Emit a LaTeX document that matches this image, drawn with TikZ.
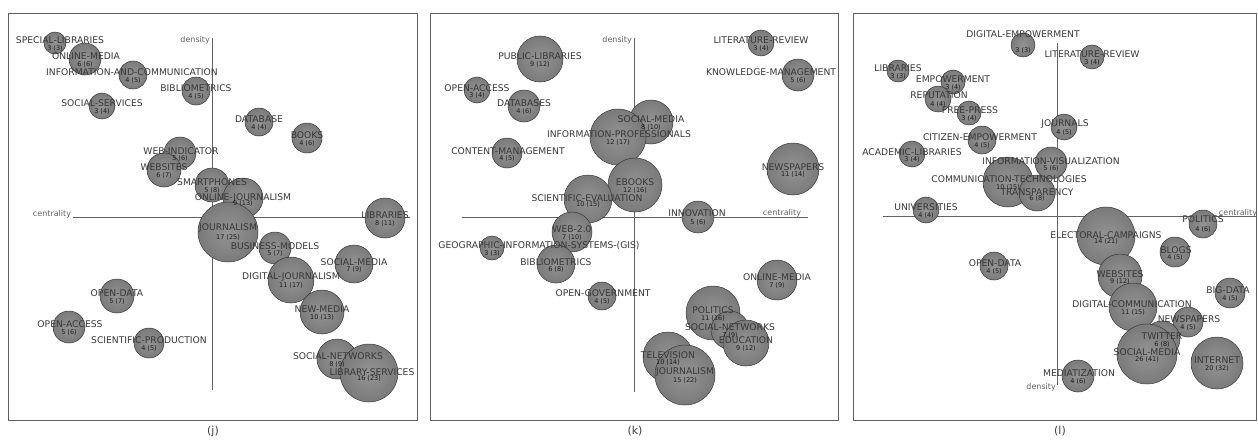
\documentclass[tikz,border=0pt]{standalone}
\usepackage{fontspec}
\setmainfont{DejaVu Sans}
\definecolor{bubin}{gray}{0.58}
\definecolor{bubmid}{gray}{0.46}
\definecolor{bubout}{gray}{0.28}
\definecolor{labc}{gray}{0.22}
\definecolor{axc}{gray}{0.38}
\pgfdeclareradialshading{bubshade}{\pgfpoint{0bp}{0bp}}{color(0bp)=(bubin); color(30bp)=(bubmid); color(46bp)=(bubout!60!bubmid); color(50bp)=(bubout)}
\newcommand{\mybb}[4]{\node[bub, minimum size=#4*2pt] (#1) at (#2,#3) {};}
\newcommand{\mylb}[5]{\node[lab] (#1l) at (#2,#3) {#4};\node[num] (#1n) at ([yshift=-5pt]#1.center) {#5};}
\begin{document}
\begin{tikzpicture}[x=1pt,y=-1pt,
  bub/.style={circle, inner sep=0pt, shading=bubshade, draw=bubout!80!black, line width=0.5pt},
  lab/.style={font=\fontsize{9.2}{10}\selectfont, text=labc, inner sep=0pt},
  num/.style={font=\fontsize{6.5}{7}\selectfont, text=labc!50!black, inner sep=0pt},
  axl/.style={font=\fontsize{8}{9}\selectfont, text=axc, inner sep=0pt},
  captxt/.style={font=\fontsize{11}{12}\selectfont, text=black!75, inner sep=0pt},
  framebox/.style={draw=gray!75!black, line width=0.9pt},
  axisline/.style={draw=axc, line width=0.8pt}]
\useasboundingbox[fill=white] (0,0) rectangle (1258,439);
% frames
\draw[framebox] (8,13) rectangle (417,420);
\draw[framebox] (430,13) rectangle (838,420);
\draw[framebox] (853,13) rectangle (1256,420);
% axes
\coordinate (jt) at (212,38); \coordinate (jb) at (212,390);
\coordinate (jl) at (73,217); \coordinate (jr) at (410,217);
\coordinate (kt) at (634,38); \coordinate (kb) at (634,392);
\coordinate (kl) at (462,217); \coordinate (kr) at (808,217);
\coordinate (lt) at (1057,43); \coordinate (lbt) at (1057,385);
\coordinate (ll) at (883,216); \coordinate (lr) at (1256,216);
\draw[axisline] (jt) -- (jb); \draw[axisline] (jl) -- (jr);
\draw[axisline] (kt) -- (kb); \draw[axisline] (kl) -- (kr);
\draw[axisline] (lt) -- (lbt); \draw[axisline] (ll) -- (lr);
\node[axl, anchor=east] (jd) at (210,40) {density};
\node[axl] (jc) at (52,214) {centrality};
\node[axl, anchor=east] (kd) at (632,40) {density};
\node[axl] (kc) at (782,213) {centrality};
\node[axl, anchor=east] (ld) at (1056,387) {density};
\node[axl] (lc) at (1238,213) {centrality};
% ---------- panel j bubbles
\mybb{ja}{55}{43}{11}
\mybb{jb1}{85}{59}{16}
\mybb{jc1}{133}{75}{14}
\mybb{jd1}{196}{91}{14}
\mybb{je}{102}{106}{13}
\mybb{jf}{259}{122}{14}
\mybb{jg}{307}{138}{15}
\mybb{jh}{180}{153}{16}
\mybb{ji}{164}{170}{17}
\mybb{jj}{212}{185}{17}
\mybb{jk}{243}{198}{20}
\mybb{jm}{228}{232}{30}
\mybb{jn}{385}{218}{20}
\mybb{jo}{275}{248}{16}
\mybb{jp}{354}{264}{19}
\mybb{jq}{291}{280}{23}
\mybb{jr1}{322}{312}{22}
\mybb{js}{117}{296}{17}
\mybb{jt1}{69}{327}{16}
\mybb{ju}{149}{343}{15}
\mybb{jv}{337}{359}{20}
\mybb{jw}{369}{373}{29}
% ---------- panel k bubbles
\mybb{ka}{540}{59}{23}
\mybb{kb1}{761}{43}{13}
\mybb{kc1}{798}{75}{16}
\mybb{kd1}{477}{90}{13}
\mybb{ke}{524}{106}{16}
\mybb{kf}{651}{122}{22}
\mybb{kg}{618}{137}{28}
\mybb{kh}{507}{153}{15}
\mybb{ki}{793}{169}{26}
\mybb{kj}{635}{185}{27}
\mybb{kk}{588}{199}{24}
\mybb{km}{698}{217}{16}
\mybb{kn}{572}{232}{20}
\mybb{ko}{492}{248}{12}
\mybb{kp}{556}{264}{19}
\mybb{kq}{777}{280}{20}
\mybb{kr1}{602}{296}{14}
\mybb{ks}{713}{313}{27}
\mybb{kt1}{730}{330}{19}
\mybb{ku}{746}{343}{23}
\mybb{kv}{668}{357}{25}
\mybb{kw}{685}{375}{30}
% ---------- panel l bubbles
\mybb{la}{1023}{45}{12}
\mybb{lb1}{1092}{57}{12}
\mybb{lc1}{898}{71}{11}
\mybb{ld1}{953}{82}{12}
\mybb{le}{938}{99}{13}
\mybb{lf}{969}{113}{12}
\mybb{lg}{1064}{127}{13}
\mybb{lh}{982}{140}{14}
\mybb{li}{912}{154}{13}
\mybb{lj}{1051}{163}{16}
\mybb{lk}{1008}{182}{25}
\mybb{lm}{1037}{193}{18}
\mybb{ln}{926}{210}{13}
\mybb{lo}{1203}{224}{14}
\mybb{lp}{1106}{236}{29}
\mybb{lq}{994}{266}{14}
\mybb{lr1}{1175}{252}{15}
\mybb{ls}{1120}{276}{22}
\mybb{lt1}{1230}{293}{15}
\mybb{lu}{1133}{307}{24}
\mybb{lv}{1188}{322}{15}
\mybb{lw}{1162}{339}{18}
\mybb{lx}{1147}{354}{30}
\mybb{ly}{1217}{363}{26}
\mybb{lz}{1078}{376}{16}
% ---------- panel j labels
\mylb{ja}{60}{40}{SPECIAL-LIBRARIES}{3 (3)}
\mylb{jb1}{86}{56}{ONLINE-MEDIA}{6 (6)}
\mylb{jc1}{132}{72}{INFORMATION-AND-COMMUNICATION}{4 (5)}
\mylb{jd1}{196}{88}{BIBLIOMETRICS}{4 (5)}
\mylb{je}{102}{103}{SOCIAL-SERVICES}{3 (4)}
\mylb{jf}{259}{119}{DATABASE}{4 (4)}
\mylb{jg}{307}{135}{BOOKS}{4 (6)}
\mylb{jh}{181}{151}{WEB-INDICATOR}{5 (6)}
\mylb{ji}{164}{167}{WEBSITES}{6 (7)}
\mylb{jj}{212}{182}{SMARTPHONES}{5 (8)}
\mylb{jk}{243}{198}{ONLINE-JOURNALISM}{9 (13)}
\mylb{jm}{228}{228}{JOURNALISM}{17 (25)}
\mylb{jn}{385}{215}{LIBRARIES}{8 (11)}
\mylb{jo}{275}{246}{BUSINESS-MODELS}{5 (7)}
\mylb{jp}{354}{262}{SOCIAL-MEDIA}{7 (9)}
\mylb{jq}{291}{277}{DIGITAL-JOURNALISM}{11 (17)}
\mylb{jr1}{322}{309}{NEW-MEDIA}{10 (13)}
\mylb{js}{117}{293}{OPEN-DATA}{5 (7)}
\mylb{jt1}{70}{324}{OPEN-ACCESS}{5 (6)}
\mylb{ju}{149}{340}{SCIENTIFIC-PRODUCTION}{4 (5)}
\mylb{jv}{338}{356}{SOCIAL-NETWORKS}{8 (9)}
\mylb{jw}{372}{372}{LIBRARY-SERVICES}{16 (23)}
% ---------- panel k labels
\mylb{ka}{540}{56}{PUBLIC-LIBRARIES}{9 (12)}
\mylb{kb1}{761}{40}{LITERATURE-REVIEW}{3 (4)}
\mylb{kc1}{771}{72}{KNOWLEDGE-MANAGEMENT}{5 (6)}
\mylb{kd1}{477}{88}{OPEN-ACCESS}{3 (4)}
\mylb{ke}{524}{103}{DATABASES}{4 (6)}
\mylb{kf}{651}{119}{SOCIAL-MEDIA}{8 (10)}
\mylb{kg}{619}{134}{INFORMATION-PROFESSIONALS}{12 (17)}
\mylb{kh}{508}{151}{CONTENT-MANAGEMENT}{4 (5)}
\mylb{ki}{793}{167}{NEWSPAPERS}{11 (14)}
\mylb{kj}{635}{182}{EBOOKS}{12 (16)}
\mylb{kk}{587}{198}{SCIENTIFIC-EVALUATION}{10 (15)}
\mylb{km}{697}{213}{INNOVATION}{5 (6)}
\mylb{kn}{572}{229}{WEB-2.0}{7 (10)}
\mylb{ko}{539}{246}{GEOGRAPHIC-INFORMATION-SYSTEMS-(GIS)}{3 (3)}
\mylb{kp}{556}{262}{BIBLIOMETRICS}{6 (8)}
\mylb{kq}{777}{277}{ONLINE-MEDIA}{7 (9)}
\mylb{kr1}{603}{293}{OPEN-GOVERNMENT}{4 (5)}
\mylb{ks}{713}{310}{POLITICS}{11 (16)}
\mylb{kt1}{730}{327}{SOCIAL-NETWORKS}{7 (9)}
\mylb{ku}{746}{340}{EDUCATION}{9 (12)}
\mylb{kv}{668}{355}{TELEVISION}{10 (14)}
\mylb{kw}{685}{372}{JOURNALISM}{15 (22)}
% ---------- panel l labels
\mylb{la}{1023}{34}{DIGITAL-EMPOWERMENT}{3 (3)}
\mylb{lb1}{1092}{54}{LITERATURE-REVIEW}{3 (4)}
\mylb{lc1}{898}{68}{LIBRARIES}{3 (3)}
\mylb{ld1}{953}{79}{EMPOWERMENT}{3 (4)}
\mylb{le}{939}{95}{REPUTATION}{4 (4)}
\mylb{lf}{970}{110}{FREE-PRESS}{3 (4)}
\mylb{lg}{1065}{124}{JOURNALS}{4 (5)}
\mylb{lh}{980}{137}{CITIZEN-EMPOWERMENT}{4 (5)}
\mylb{li}{912}{152}{ACADEMIC-LIBRARIES}{3 (4)}
\mylb{lj}{1051}{161}{INFORMATION-VISUALIZATION}{5 (6)}
\mylb{lk}{1009}{179}{COMMUNICATION-TECHNOLOGIES}{10 (15)}
\mylb{lm}{1037}{192}{TRANSPARENCY}{6 (8)}
\mylb{ln}{926}{207}{UNIVERSITIES}{4 (4)}
\mylb{lo}{1203}{219}{POLITICS}{4 (6)}
\mylb{lp}{1106}{235}{ELECTORAL-CAMPAIGNS}{14 (21)}
\mylb{lq}{995}{263}{OPEN-DATA}{4 (5)}
\mylb{lr1}{1176}{250}{BLOGS}{4 (5)}
\mylb{ls}{1120}{274}{WEBSITES}{9 (12)}
\mylb{lt1}{1228}{290}{BIG-DATA}{4 (5)}
\mylb{lu}{1132}{304}{DIGITAL-COMMUNICATION}{11 (15)}
\mylb{lv}{1189}{319}{NEWSPAPERS}{4 (5)}
\mylb{lw}{1162}{336}{TWITTER}{6 (8)}
\mylb{lx}{1147}{352}{SOCIAL-MEDIA}{26 (41)}
\mylb{ly}{1217}{360}{INTERNET}{20 (32)}
\mylb{lz}{1079}{373}{MEDIATIZATION}{4 (6)}
% captions
\node[captxt] (capj) at (213,431) {(j)};
\node[captxt] (capk) at (635,431) {(k)};
\node[captxt] (capl) at (1060,431) {(l)};
\end{tikzpicture}
\end{document}
